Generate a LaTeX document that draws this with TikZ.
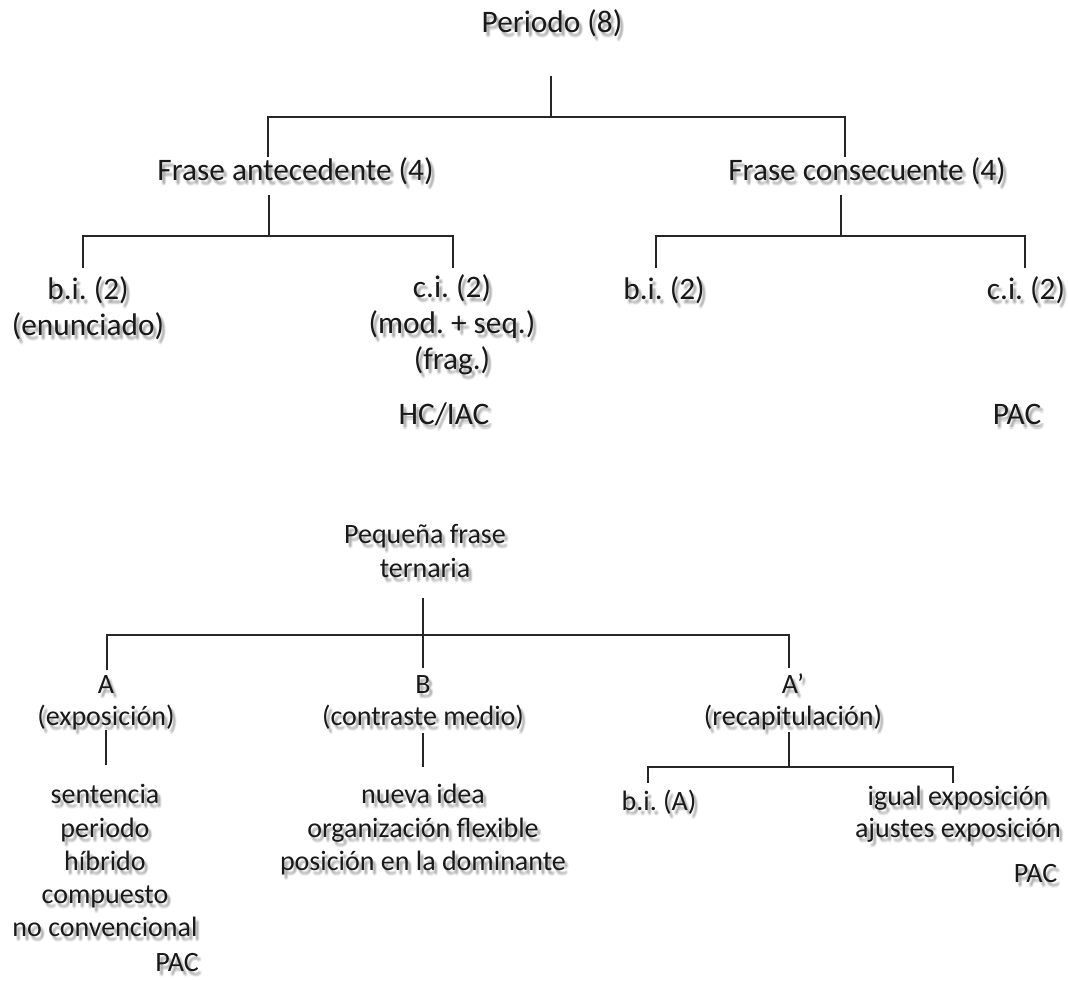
\documentclass[tikz,border=0pt]{standalone}
\usepackage{fontspec}
\setmainfont{Carlito}
\frenchspacing
% stacked lines whose baseline is the first line's baseline
\newcommand\stack[1]{\begin{tabular}[t]{@{}c@{}}#1\end{tabular}}
% a label with its soft drop shadow: style, name, position, text
\newcommand\shtext[4]{%
  \foreach \sx/\sy in {2/3,3/3,4/3,2/4,3/4,4/4,2/5,3/5,4/5,3/6}{%
    \node[#1,text=black,opacity=0.04,shift={(\sx,\sy)}] at (#3) {#4};}%
  \node[#1] (#2) at (#3) {#4};}
\begin{document}
\begin{tikzpicture}[x=1pt,y=-1pt,
  lbl/.style={anchor=base,inner sep=0pt,text=black!90},
  big/.style={lbl,font=\fontsize{31.3}{36}\selectfont},
  small/.style={lbl,font=\fontsize{28}{33}\selectfont},
  tree/.style={line width=1.5pt,draw=black!85}]
\useasboundingbox (0,0) rectangle (1068,981);

% ---------- Periodo ----------
\shtext{big}{p}{552,33}{Periodo (8)}
\shtext{big}{fa}{295.5,181}{Frase antecedente (4)}
\shtext{big}{fc}{867,181}{Frase consecuente (4)}
\shtext{big}{bi1}{88,300}{\stack{b.i. (2)\\(enunciado)}}
\shtext{big}{ci1}{452,298}{\stack{c.i. (2)\\(mod. + seq.)\\(frag.)}}
\shtext{big}{hc}{444,424}{HC/IAC}
\shtext{big}{bi2}{664,300}{b.i. (2)}
\shtext{big}{ci2}{1026,300}{c.i. (2)}
\shtext{big}{pac1}{1017,424}{PAC}

\coordinate (pS) at (551,76);  \coordinate (pJ) at (551,117);
\coordinate (faN) at (268,157); \coordinate (faU) at (268,117);
\coordinate (fcN) at (845,157); \coordinate (fcU) at (845,117);
\draw[tree] (pS) -- (pJ);
\draw[tree] (faN) -- (faU) -- (fcU) -- (fcN);

\coordinate (faS) at (269,195); \coordinate (faJ) at (269,236);
\coordinate (bi1N) at (83,268);  \coordinate (bi1U) at (83,236);
\coordinate (ci1N) at (453,268); \coordinate (ci1U) at (453,236);
\draw[tree] (faS) -- (faJ);
\draw[tree] (bi1N) -- (bi1U) -- (ci1U) -- (ci1N);

\coordinate (fcS) at (841,195); \coordinate (fcJ) at (841,236);
\coordinate (bi2N) at (656,268);  \coordinate (bi2U) at (656,236);
\coordinate (ci2N) at (1025,268); \coordinate (ci2U) at (1025,236);
\draw[tree] (fcS) -- (fcJ);
\draw[tree] (bi2N) -- (bi2U) -- (ci2U) -- (ci2N);

% ---------- Pequeña frase ternaria ----------
\shtext{small}{pf}{425,543}{\stack{Pequeña frase\\[1pt]ternaria}}
\shtext{small}{a}{106,693}{\stack{A\\[-1pt](exposición)}}
\shtext{small}{b}{423,693}{\stack{B\\[-1pt](contraste medio)}}
\shtext{small}{ap}{793,693}{\stack{A’\\[-1pt](recapitulación)}}
\shtext{small}{la}{105,803}{\stack{sentencia\\[1pt]periodo\\híbrido\\compuesto\\no convencional}}
\shtext{small}{paca}{177,971}{PAC}
\shtext{small}{lb}{423,803}{\stack{nueva idea\\[1pt]organización flexible\\posición en la dominante}}
\shtext{small}{bia}{659,810}{b.i. (A)}
\shtext{small}{ig}{958,805}{\stack{igual exposición\\[-1pt]ajustes exposición}}
\shtext{small}{pacr}{1035.5,882}{PAC}

\coordinate (pfS) at (423,598); \coordinate (bN) at (423,668);
\coordinate (aN) at (107,670);  \coordinate (aU) at (107,635);
\coordinate (apN) at (789,668); \coordinate (apU) at (789,635);
\draw[tree] (pfS) -- (bN);
\draw[tree] (aN) -- (aU) -- (apU) -- (apN);

\coordinate (aS) at (106,730); \coordinate (laN) at (106,765);
\draw[tree] (aS) -- (laN);
\coordinate (bS) at (423,733); \coordinate (lbN) at (423,767);
\draw[tree] (bS) -- (lbN);

\coordinate (apS) at (789,732); \coordinate (apJ) at (789,767);
\coordinate (biaN) at (648,783); \coordinate (biaU) at (648,767);
\coordinate (igN) at (953,783);  \coordinate (igU) at (953,767);
\draw[tree] (apS) -- (apJ);
\draw[tree] (biaN) -- (biaU) -- (igU) -- (igN);
\end{tikzpicture}
\end{document}
